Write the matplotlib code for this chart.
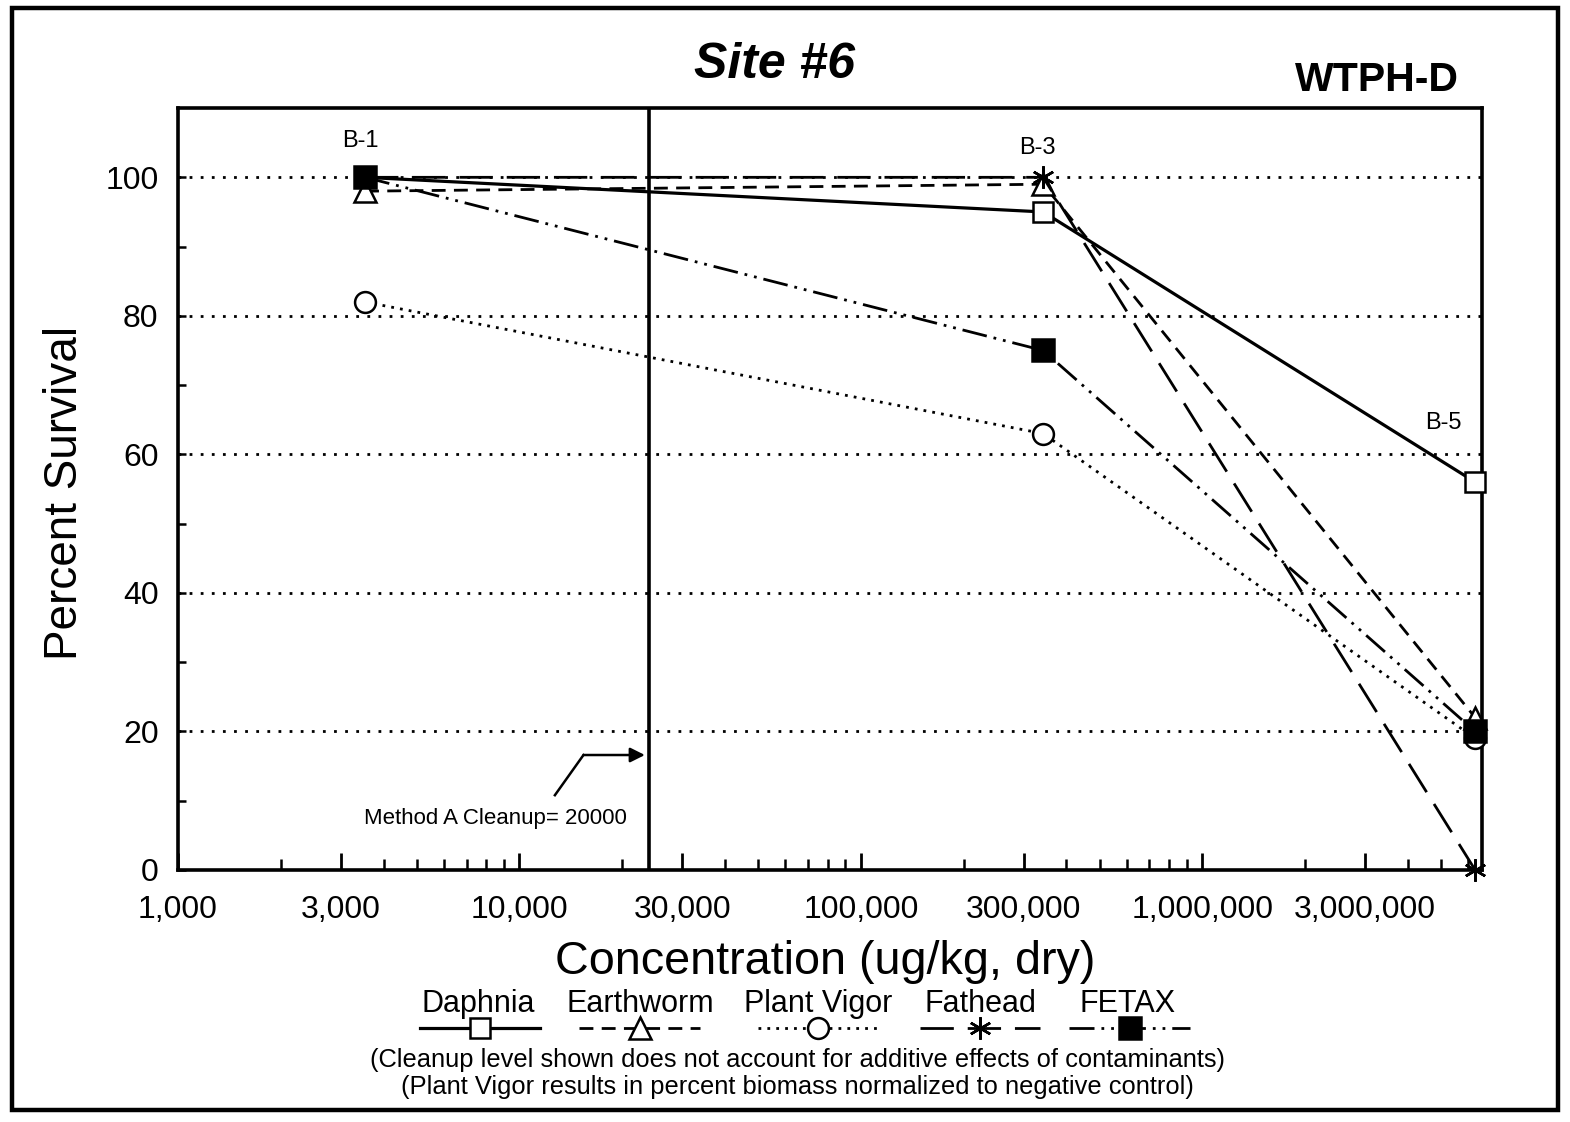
import matplotlib
matplotlib.use("Agg")
import matplotlib.pyplot as plt
from matplotlib.patches import Rectangle
from matplotlib.ticker import FixedLocator, LogLocator, NullFormatter, FuncFormatter

plt.rcParams["font.family"] = ["Liberation Sans", "DejaVu Sans"]

# ── Data ───────────────────────────────────────────────────────────────────────
stations      = ["B-1", "B-3", "B-5"]
concentration = [3530, 342000, 6300000]          # ug/kg, dry

daphnia      = [100, 95, 56]
earthworm    = [98, 99, 22]
plant_vigor  = [82, 63, 19]
fathead      = [100, 100, 0]
fetax        = [100, 75, 20]

cleanup_level = 24000
cleanup_label = "Method A Cleanup= 20000"

x_ticks      = [1000, 3000, 10000, 30000, 100000, 300000, 1000000, 3000000]
y_ticks      = [0, 20, 40, 60, 80, 100]

notes = ["(Cleanup level shown does not account for additive effects of contaminants)",
         "(Plant Vigor results in percent biomass normalized to negative control)"]

# ── Series styles ──────────────────────────────────────────────────────────────
series = [
    ("Daphnia",     daphnia,     dict(ls="-",                         lw=2.3, marker="s", ms=15, mfc="white")),
    ("Earthworm",   earthworm,   dict(ls=(0, (5, 3)),                 lw=2.0, marker="^", ms=16, mfc="white")),
    ("Plant Vigor", plant_vigor, dict(ls=(0, (1, 2.2)),               lw=2.0, marker="o", ms=15, mfc="white")),
    ("Fathead",     fathead,     dict(ls=(0, (12, 5)),                lw=2.0, marker=(6, 2, 0), ms=16, mfc="black")),
    ("FETAX",       fetax,       dict(ls=(0, (9, 2.5, 1, 2.5, 1, 2.5)), lw=2.0, marker="s", ms=16, mfc="black")),
]

fig = plt.figure(figsize=(15.7, 11.22), dpi=100)
ax = fig.add_axes([0.1134, 0.2246, 0.8306, 0.6791])

# ── Grid + cleanup line ────────────────────────────────────────────────────────
for yv in y_ticks[1:]:
    ax.axhline(yv, color="black", lw=2.0, ls=(0, (1, 3)), zorder=1)
ax.axvline(cleanup_level, color="black", lw=2.6, zorder=2)

# ── Series ─────────────────────────────────────────────────────────────────────
for name, vals, st in series:
    ax.plot(concentration, vals, color="black", mec="black", mew=1.8,
            clip_on=False, zorder=3, **st)

# ── Station labels ─────────────────────────────────────────────────────────────
ax.text(concentration[0] * 0.97, 105.3, stations[0], ha="center", va="center", fontsize=17)
ax.text(concentration[1] * 0.96, 104.2, stations[1], ha="center", va="center", fontsize=17)
ax.text(5100000, 64.6, stations[2], ha="center", va="center", fontsize=17)

# ── Cleanup annotation ─────────────────────────────────────────────────────────
ax.text(8500, 7.4, cleanup_label, ha="center", va="center", fontsize=16)
ax.plot([12700, 15400], [10.8, 16.6], color="black", lw=1.8, zorder=2)
ax.annotate("", xy=(23300, 16.6), xytext=(15400, 16.6),
            arrowprops=dict(arrowstyle="-|>", color="black", lw=1.8,
                            mutation_scale=22, shrinkA=0, shrinkB=0))

# ── Axes ───────────────────────────────────────────────────────────────────────
ax.set_xscale("log")
ax.set_xlim(1000, 6600000)
ax.set_ylim(0, 110)

ax.xaxis.set_major_locator(FixedLocator(x_ticks))
ax.xaxis.set_major_formatter(FuncFormatter(lambda v, p: f"{int(round(v)):,}"))
ax.xaxis.set_minor_locator(LogLocator(base=10, subs=[2, 4, 5, 6, 7, 8, 9], numticks=20))
ax.xaxis.set_minor_formatter(NullFormatter())
ax.yaxis.set_major_locator(FixedLocator(y_ticks))
ax.yaxis.set_minor_locator(FixedLocator([10, 30, 50, 70, 90]))

ax.tick_params(axis="x", which="major", direction="in", length=12, width=2, labelsize=23, pad=18)
ax.tick_params(axis="x", which="minor", direction="in", length=8, width=1.8)
ax.tick_params(axis="y", which="major", direction="in", length=6, width=1.8, labelsize=23, pad=14)
ax.tick_params(axis="y", which="minor", direction="in", length=6, width=1.8)

for sp in ax.spines.values():
    sp.set_linewidth(2.6)

# ── Titles / axis labels ───────────────────────────────────────────────────────
fig.text(0.4936, 0.942, "Site #6", ha="center", va="center", fontsize=36,
         fontweight="bold", fontstyle="italic")
fig.text(0.877, 0.9287, "WTPH-D", ha="center", va="center", fontsize=29.5, fontweight="bold")
fig.text(0.0414, 0.5606, "Percent Survival", ha="center", va="center", rotation=90, fontsize=33)
fig.text(0.5255, 0.1426, "Concentration (ug/kg, dry)", ha="center", va="center", fontsize=33.7)

# ── Custom legend (label above sample line) ────────────────────────────────────
leg_ax = fig.add_axes([0, 0, 1, 1], facecolor="none")
leg_ax.set_xlim(0, 1)
leg_ax.set_ylim(0, 1)
leg_ax.axis("off")

label_x  = [0.3045, 0.4076, 0.5210, 0.6248, 0.7185]
marker_x = [0.3057, 0.4076, 0.5210, 0.6242, 0.7197]
half_w   = 0.0385
for (name, vals, st), lx, mx in zip(series, label_x, marker_x):
    leg_ax.text(lx, 0.1050, name, ha="center", va="center", fontsize=22)
    line_st = {k: v for k, v in st.items() if k in ("ls", "lw")}
    leg_ax.plot([mx - half_w, mx + half_w], [0.0838, 0.0838], color="black", **line_st)
    leg_ax.plot([mx], [0.0838], color="black", ls="none", marker=st["marker"],
                ms=st["ms"], mfc=st["mfc"], mec="black", mew=1.8)

for i, note in enumerate(notes):
    leg_ax.text(0.508, 0.0553 - i * 0.0241, note, ha="center", va="center", fontsize=18.4)

# ── Outer frame ────────────────────────────────────────────────────────────────
fig.add_artist(Rectangle((0.0076, 0.0107), 0.9847, 0.982, transform=fig.transFigure,
                         fill=False, edgecolor="black", lw=3.2))

fig.savefig("out.png", dpi=100)
